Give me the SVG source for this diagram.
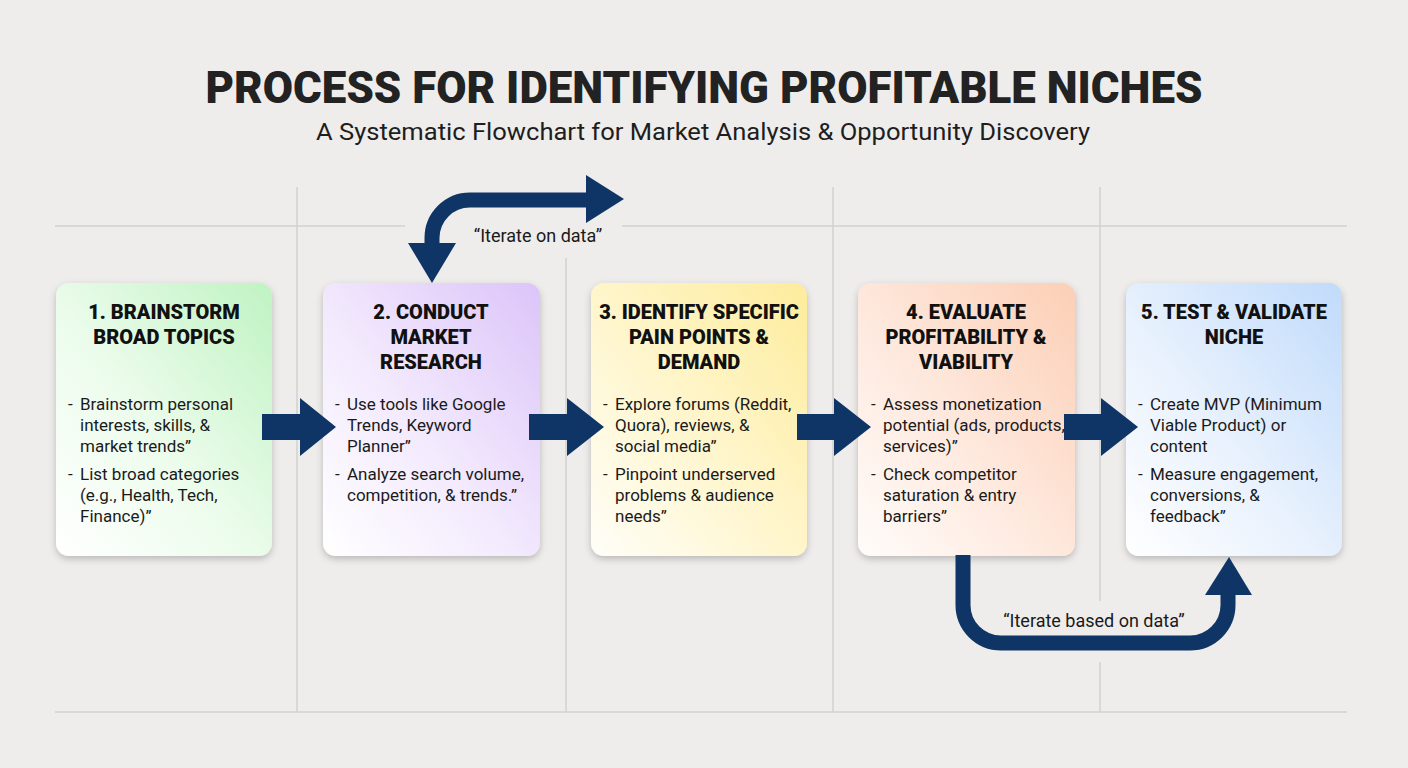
<svg xmlns="http://www.w3.org/2000/svg" width="1408" height="768" viewBox="0 0 1408 768">
<defs>
<style>
.grid{stroke:#d3d1ce;stroke-width:1.5;fill:none}
.title{font-family:Roboto,"Liberation Sans",sans-serif;font-weight:900;fill:#222;}
.sub{font-family:Roboto,"Liberation Sans",sans-serif;font-size:24px;fill:#1e1e1e;}
.bt{font-family:Roboto,"Liberation Sans",sans-serif;font-weight:900;font-size:20px;fill:#111;text-anchor:middle}
.bd{font-family:Roboto,"Liberation Sans",sans-serif;font-size:17px;fill:#1a1a1a}
.lbl{font-family:Roboto,"Liberation Sans",sans-serif;font-size:18px;fill:#1a1a1a;text-anchor:middle}
.ar{fill:#0f3566}
.loop{fill:none;stroke:#0f3566;stroke-width:15}
</style>
<filter id="sh" x="-10%" y="-10%" width="120%" height="125%">
<feDropShadow dx="0" dy="3" stdDeviation="3.5" flood-color="#000" flood-opacity="0.22"/>
</filter>
<linearGradient id="g1" x1="0" y1="1" x2="1" y2="0"><stop offset="0" stop-color="#ffffff"/><stop offset="0.45" stop-color="#ecfcec"/><stop offset="1" stop-color="#bff3c2"/></linearGradient>
<linearGradient id="g2" x1="0" y1="1" x2="1" y2="0"><stop offset="0" stop-color="#ffffff"/><stop offset="0.45" stop-color="#f3eafd"/><stop offset="1" stop-color="#dcc4f9"/></linearGradient>
<linearGradient id="g3" x1="0" y1="1" x2="1" y2="0"><stop offset="0" stop-color="#fffef8"/><stop offset="0.45" stop-color="#fff6cf"/><stop offset="1" stop-color="#fdec9c"/></linearGradient>
<linearGradient id="g4" x1="0" y1="1" x2="1" y2="0"><stop offset="0" stop-color="#fffcfa"/><stop offset="0.45" stop-color="#fee9de"/><stop offset="1" stop-color="#fccfb6"/></linearGradient>
<linearGradient id="g5" x1="0" y1="1" x2="1" y2="0"><stop offset="0" stop-color="#ffffff"/><stop offset="0.45" stop-color="#e8f1fd"/><stop offset="1" stop-color="#c0dbfb"/></linearGradient>
</defs>
<rect width="1408" height="768" fill="#eeedeb"/>
<g id="grid">
<line class="grid" x1="55" y1="226" x2="405" y2="226"/>
<line class="grid" x1="622" y1="226" x2="1347" y2="226"/>
<line class="grid" x1="55" y1="712" x2="1347" y2="712"/>
<line class="grid" x1="297" y1="187" x2="297" y2="712"/>
<line class="grid" x1="566" y1="258" x2="566" y2="712"/>
<line class="grid" x1="833" y1="187" x2="833" y2="712"/>
<line class="grid" x1="1100" y1="187" x2="1100" y2="601"/>
<line class="grid" x1="1100" y1="662" x2="1100" y2="712"/>
</g>
<g id="header">
<text class="title" x="704" y="103" font-size="44" text-anchor="middle" textLength="997" lengthAdjust="spacingAndGlyphs">PROCESS FOR IDENTIFYING PROFITABLE NICHES</text>
<text class="sub" x="703" y="140" text-anchor="middle" textLength="774" lengthAdjust="spacingAndGlyphs">A Systematic Flowchart for Market Analysis &amp; Opportunity Discovery</text>
</g>
<g id="node1">
<rect x="56" y="283" width="216" height="273" rx="13" fill="url(#g1)" filter="url(#sh)"/>
<text class="bt" x="164" y="319">1. BRAINSTORM</text>
<text class="bt" x="164" y="344">BROAD TOPICS</text>
<text class="bd" x="68" y="410">-</text>
<text class="bd" x="80" y="410">Brainstorm personal</text>
<text class="bd" x="80" y="431">interests, skills, &amp;</text>
<text class="bd" x="80" y="452">market trends”</text>
<text class="bd" x="68" y="480">-</text>
<text class="bd" x="80" y="480">List broad categories</text>
<text class="bd" x="80" y="501">(e.g., Health, Tech,</text>
<text class="bd" x="80" y="522">Finance)”</text>
</g>
<g id="node2">
<rect x="323" y="283" width="217" height="273" rx="13" fill="url(#g2)" filter="url(#sh)"/>
<text class="bt" x="431" y="319">2. CONDUCT</text>
<text class="bt" x="431" y="344">MARKET</text>
<text class="bt" x="431" y="369">RESEARCH</text>
<text class="bd" x="335" y="410">-</text>
<text class="bd" x="347" y="410">Use tools like Google</text>
<text class="bd" x="347" y="431">Trends, Keyword</text>
<text class="bd" x="347" y="452">Planner”</text>
<text class="bd" x="335" y="480">-</text>
<text class="bd" x="347" y="480">Analyze search volume,</text>
<text class="bd" x="347" y="501">competition, &amp; trends.”</text>
</g>
<g id="node3">
<rect x="591" y="283" width="216" height="273" rx="13" fill="url(#g3)" filter="url(#sh)"/>
<text class="bt" x="699" y="319">3. IDENTIFY SPECIFIC</text>
<text class="bt" x="699" y="344">PAIN POINTS &amp;</text>
<text class="bt" x="699" y="369">DEMAND</text>
<text class="bd" x="603" y="410">-</text>
<text class="bd" x="615" y="410">Explore forums (Reddit,</text>
<text class="bd" x="615" y="431">Quora), reviews, &amp;</text>
<text class="bd" x="615" y="452">social media”</text>
<text class="bd" x="603" y="480">-</text>
<text class="bd" x="615" y="480">Pinpoint underserved</text>
<text class="bd" x="615" y="501">problems &amp; audience</text>
<text class="bd" x="615" y="522">needs”</text>
</g>
<g id="node4">
<rect x="858" y="283" width="217" height="273" rx="13" fill="url(#g4)" filter="url(#sh)"/>
<text class="bt" x="966" y="319">4. EVALUATE</text>
<text class="bt" x="966" y="344">PROFITABILITY &amp;</text>
<text class="bt" x="966" y="369">VIABILITY</text>
<text class="bd" x="871" y="410">-</text>
<text class="bd" x="883" y="410">Assess monetization</text>
<text class="bd" x="883" y="431">potential (ads, products,</text>
<text class="bd" x="883" y="452">services)”</text>
<text class="bd" x="871" y="480">-</text>
<text class="bd" x="883" y="480">Check competitor</text>
<text class="bd" x="883" y="501">saturation &amp; entry</text>
<text class="bd" x="883" y="522">barriers”</text>
</g>
<g id="node5">
<rect x="1126" y="283" width="216" height="273" rx="13" fill="url(#g5)" filter="url(#sh)"/>
<text class="bt" x="1234" y="319">5. TEST &amp; VALIDATE</text>
<text class="bt" x="1234" y="344">NICHE</text>
<text class="bd" x="1138" y="410">-</text>
<text class="bd" x="1150" y="410">Create MVP (Minimum</text>
<text class="bd" x="1150" y="431">Viable Product) or</text>
<text class="bd" x="1150" y="452">content</text>
<text class="bd" x="1138" y="480">-</text>
<text class="bd" x="1150" y="480">Measure engagement,</text>
<text class="bd" x="1150" y="501">conversions, &amp;</text>
<text class="bd" x="1150" y="522">feedback”</text>
</g>
<g id="connectors">
<path class="ar" d="M262,414 H300 V398 L336,427 L300,456 V440 H262 Z"/>
<path class="ar" d="M529,414 H567 V398 L604,427 L567,456 V440 H529 Z"/>
<path class="ar" d="M797,414 H834 V398 L871,427 L834,456 V440 H797 Z"/>
<path class="ar" d="M1064,414 H1101 V398 L1138,427 L1101,456 V440 H1064 Z"/>
<path class="loop" d="M432,246 V238 A38,38 0 0 1 470,200 H590"/>
<path class="ar" d="M408,243 L456,243 L432,283 Z"/>
<path class="ar" d="M586,175 L624,199 L586,223 Z"/>
<text class="lbl" x="538" y="242">“Iterate on data”</text>
<path class="loop" d="M963,555 V605 A38,38 0 0 0 1001,643 H1190 A38,38 0 0 0 1228,605 V592"/>
<path class="ar" d="M1205,595 L1252,595 L1229,557 Z"/>
<text class="lbl" x="1094" y="627">“Iterate based on data”</text>
</g>
</svg>
